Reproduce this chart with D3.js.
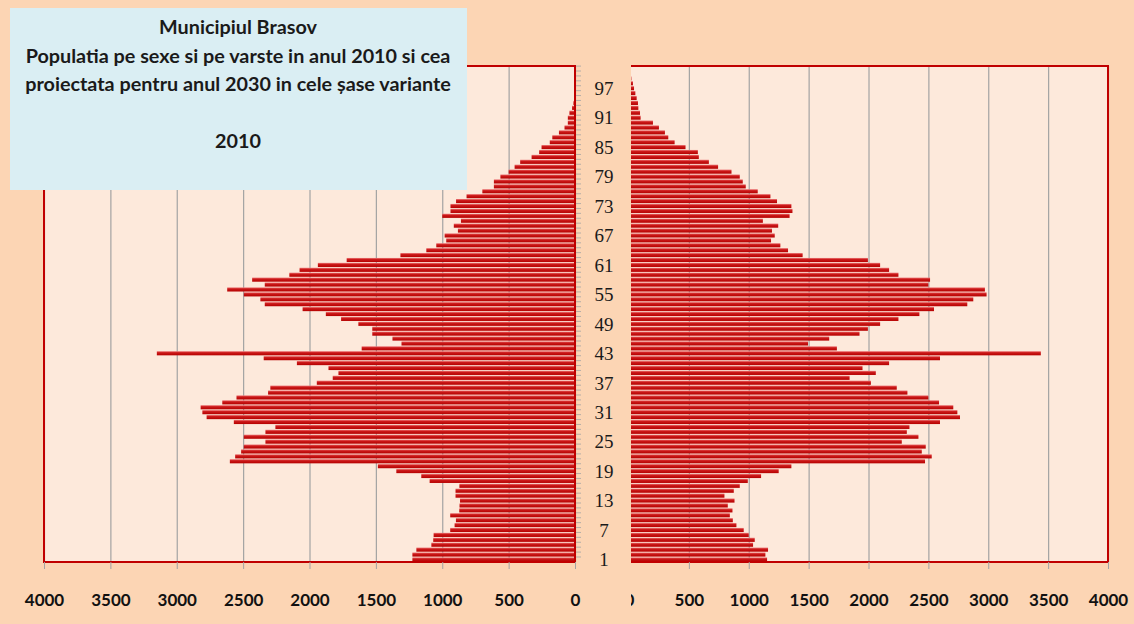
<!DOCTYPE html>
<html>
<head>
<meta charset="utf-8">
<script src="https://cdn.jsdelivr.net/npm/d3@7"></script>
<style>
  body { margin: 0; background: #fcd5b4; }
  svg { display: block; }
</style>
</head>
<body>
<svg id="chart" width="1134" height="624"></svg>
<script>
// ages 1..101, one bar per age on each side
const ages = d3.range(1, 102);
const ageTicks = [1, 7, 13, 19, 25, 31, 37, 43, 49, 55, 61, 67, 73, 79, 85, 91, 97];
const valueTicks = [0, 500, 1000, 1500, 2000, 2500, 3000, 3500, 4000];

// left side (ages 1..101)
const leftValues = [
  1225, 1225, 1195, 1082, 1068, 1065, 940, 907, 897, 940,
  872, 870, 866, 900, 900, 871, 1095, 1158, 1346, 1485,
  2600, 2560, 2515, 2495, 2332, 2495, 2332, 2257, 2570, 2775,
  2807, 2820, 2657, 2550, 2312, 2295, 1945, 1825, 1782, 1857,
  2095, 2345, 3150, 1607, 1307, 1375, 1527, 1527, 1632, 1762,
  1877, 2052, 2337, 2370, 2495, 2620, 2337, 2432, 2152, 2075,
  1937, 1720, 1315, 1120, 1045, 970, 982, 882, 913, 859,
  1000, 938, 938, 896, 817, 698, 611, 611, 562, 500,
  455, 413, 327, 270, 252, 190, 171, 121, 79, 54,
  54, 42, 22, 12, 6, 4, 3, 2, 1, 1, 0
];

// right side (ages 1..101)
const rightValues = [
  1153, 1139, 1161, 1036, 1050, 1000, 958, 897, 867, 842,
  864, 825, 881, 797, 875, 925, 992, 1103, 1250, 1356,
  2472, 2528, 2445, 2478, 2278, 2417, 2320, 2342, 2597, 2764,
  2742, 2708, 2589, 2500, 2325, 2236, 2020, 1842, 2061, 1950,
  2172, 2597, 3439, 1736, 1495, 1672, 1925, 1995, 2097, 2250,
  2425, 2547, 2825, 2875, 2986, 2972, 2500, 2514, 2250, 2172,
  2097, 1995, 1450, 1328, 1264, 1186, 1217, 1194, 1246, 1118,
  1341, 1365, 1356, 1236, 1181, 1075, 975, 950, 925, 856,
  744, 667, 583, 575, 472, 381, 328, 300, 250, 200,
  97, 92, 78, 75, 64, 53, 42, 33, 20, 10, 5
];

const titleLines = [
  "Municipiul Brasov",
  "Populatia pe sexe si pe varste in anul 2010 si cea",
  "proiectata pentru anul 2030 in  cele șase variante",
  "",
  "2010"
];

const width = 1134, height = 624;
const plotTop = 66, plotBottom = 562;

const svg = d3.select("#chart");
svg.append("rect").attr("width", width).attr("height", height).attr("fill", "#fcd5b4");

const defs = svg.append("defs");
const grad = defs.append("linearGradient")
  .attr("id", "barGrad").attr("x1", 0).attr("y1", 0).attr("x2", 0).attr("y2", 1);
grad.append("stop").attr("offset", "0%").attr("stop-color", "#ee7b7b");
grad.append("stop").attr("offset", "35%").attr("stop-color", "#cc1a1a");
grad.append("stop").attr("offset", "100%").attr("stop-color", "#b50000");

defs.append("clipPath").attr("id", "rightClip")
  .append("rect").attr("x", 631).attr("y", 0).attr("width", width - 631).attr("height", height);

const y = d3.scaleBand().domain(ages).range([plotBottom, plotTop])
  .paddingInner(0.16).paddingOuter(0.1);

const xLeft = d3.scaleLinear().domain([0, 4000]).range([575, 44]);
const xRight = d3.scaleLinear().domain([0, 4000]).range([629, 1108]);

function drawPanel(g, x, values) {
  const x0 = Math.min(x(0), x(4000)), x1 = Math.max(x(0), x(4000));

  g.append("rect")
    .attr("x", x0).attr("y", plotTop)
    .attr("width", x1 - x0).attr("height", plotBottom - plotTop)
    .attr("fill", "#fde9db");

  // vertical gridlines
  const grid = g.append("g")
    .attr("transform", `translate(0,${plotBottom})`)
    .call(d3.axisBottom(x).tickValues(valueTicks).tickSize(-(plotBottom - plotTop)).tickFormat(""));
  grid.select(".domain").remove();
  grid.selectAll("line").attr("stroke", "#a3a3a3").attr("stroke-width", 1.2);

  g.selectAll("rect.bar")
    .data(ages)
    .join("rect")
    .attr("class", "bar")
    .attr("x", (a, i) => Math.min(x(0), x(values[i])))
    .attr("y", a => y(a))
    .attr("width", (a, i) => Math.abs(x(values[i]) - x(0)))
    .attr("height", y.bandwidth())
    .attr("fill", "url(#barGrad)");

  // border
  g.append("rect")
    .attr("x", x0).attr("y", plotTop)
    .attr("width", x1 - x0).attr("height", plotBottom - plotTop)
    .attr("fill", "none").attr("stroke", "#c00000").attr("stroke-width", 2);

  // bottom axis labels
  const ax = g.append("g")
    .attr("transform", `translate(0,${plotBottom})`)
    .call(d3.axisBottom(x).tickValues(valueTicks).tickSize(7).tickPadding(25).tickFormat(d3.format("d")));
  ax.select(".domain").remove();
  ax.selectAll("line").attr("stroke", "#a3a3a3");
  ax.selectAll("text")
    .attr("font-family", "Lato, 'Open Sans', sans-serif")
    .attr("font-weight", "bold")
    .attr("font-size", 17)
    .attr("fill", "#111");
}

const leftG = svg.append("g");
drawPanel(leftG, xLeft, leftValues);

// small category ticks on the inner edge of the left panel
leftG.append("g")
  .attr("transform", "translate(576,0)")
  .selectAll("line")
  .data(ages)
  .join("line")
  .attr("x1", 0).attr("x2", 5)
  .attr("y1", a => y(a) - y.step() * y.paddingInner() / 2)
  .attr("y2", a => y(a) - y.step() * y.paddingInner() / 2)
  .attr("stroke", "#a3a3a3").attr("stroke-width", 0.8);

// age labels
svg.append("g").selectAll("text")
  .data(ageTicks)
  .join("text")
  .attr("x", 604)
  .attr("y", a => y(a) + y.bandwidth() / 2)
  .attr("dy", "0.36em")
  .attr("text-anchor", "middle")
  .attr("font-family", "'Liberation Serif', 'DejaVu Serif', serif")
  .attr("font-size", 19)
  .attr("fill", "#1a1a1a")
  .text(d => d);

const rightG = svg.append("g").attr("clip-path", "url(#rightClip)");
drawPanel(rightG, xRight, rightValues);

// title box
svg.append("rect")
  .attr("x", 10).attr("y", 8).attr("width", 457).attr("height", 182)
  .attr("fill", "#daeef3");

svg.append("g").selectAll("text")
  .data(titleLines)
  .join("text")
  .attr("x", 238)
  .attr("y", (d, i) => 34 + i * 28.6)
  .attr("text-anchor", "middle")
  .attr("font-family", "Lato, 'Open Sans', sans-serif")
  .attr("font-weight", "bold")
  .attr("font-size", 19.8)
  .attr("fill", "#1a1a1a")
  .text(d => d);
</script>
</body>
</html>
